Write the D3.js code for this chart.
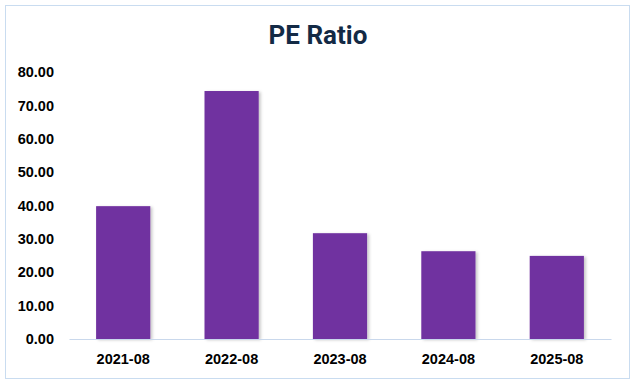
<!DOCTYPE html>
<html>
<head>
<meta charset="utf-8">
<script src="https://cdn.jsdelivr.net/npm/d3@7"></script>
<style>
  body { margin: 0; background: #fff; }
  svg { display: block; }
</style>
</head>
<body>
<script>
// data
var periods = ["2021-08", "2022-08", "2023-08", "2024-08", "2025-08"];
var peRatio = [39.8, 74.3, 31.7, 26.3, 24.9];
var yTicks = [0, 10, 20, 30, 40, 50, 60, 70, 80];

var width = 636,
    height = 383,
    margin = {top: 72, right: 25, bottom: 44, left: 69};

var svg = d3.select("body").append("svg")
    .attr("width", width)
    .attr("height", height);

var defs = svg.append("defs");
var shadow = defs.append("filter")
    .attr("id", "shadow")
    .attr("x", "-20%").attr("y", "-20%")
    .attr("width", "150%").attr("height", "150%");
shadow.append("feDropShadow")
    .attr("dx", 2).attr("dy", 1)
    .attr("stdDeviation", 1.6)
    .attr("flood-color", "#000")
    .attr("flood-opacity", 0.22);

// outer frame
svg.append("rect")
    .attr("x", 5.5).attr("y", 5.5)
    .attr("width", 624).attr("height", 373)
    .attr("fill", "#fff")
    .attr("stroke", "#c9dcf0")
    .attr("stroke-width", 1);

svg.append("text")
    .attr("x", 318)
    .attr("y", 44)
    .attr("text-anchor", "middle")
    .style("font-family", "Roboto, 'Open Sans', sans-serif")
    .style("font-weight", "bold")
    .style("font-size", "26px")
    .attr("fill", "#132a45")
    .text("PE Ratio");

var x = d3.scaleBand()
    .domain(periods)
    .range([margin.left, width - margin.right])
    .paddingInner(0.5)
    .paddingOuter(0.25);

var y = d3.scaleLinear()
    .domain([0, 80])
    .range([height - margin.bottom, margin.top]);

var g = svg.append("g");

g.selectAll(".bar")
    .data(peRatio)
    .enter().append("rect")
      .attr("class", "bar")
      .attr("x", function(d, i) { return x(periods[i]); })
      .attr("y", function(d) { return y(d); })
      .attr("width", x.bandwidth())
      .attr("height", function(d) { return y(0) - y(d); })
      .attr("fill", "#7030a0")
      .attr("filter", "url(#shadow)");

// y axis labels, no line
var yAxis = svg.append("g")
    .attr("transform", "translate(" + (margin.left - 15) + ",0)")
    .call(d3.axisLeft(y).tickValues(yTicks).tickSize(0).tickPadding(0)
      .tickFormat(function(d) { return d3.format(".2f")(d); }));
yAxis.select(".domain").remove();
yAxis.selectAll("text")
    .attr("fill", "#000")
    .style("font-family", "'Liberation Sans', Arial, sans-serif")
    .style("font-weight", "bold")
    .style("font-size", "14.5px");

// x axis
var xAxis = svg.append("g")
    .attr("transform", "translate(0," + (height - margin.bottom) + ")")
    .call(d3.axisBottom(x).tickSize(0).tickPadding(15));
xAxis.select(".domain")
    .attr("stroke", "#c9d8ec")
    .attr("stroke-width", 1.2);
xAxis.selectAll("text")
    .attr("fill", "#000")
    .style("font-family", "'Liberation Sans', Arial, sans-serif")
    .style("font-weight", "bold")
    .style("font-size", "14.5px");
</script>
</body>
</html>
